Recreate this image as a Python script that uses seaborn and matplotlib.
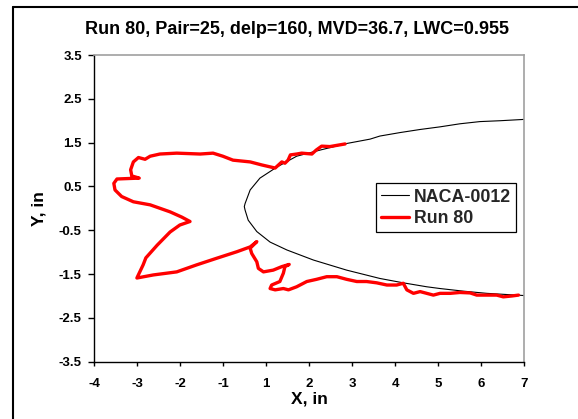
import numpy as np
import pandas as pd
import matplotlib
matplotlib.use("Agg")
import matplotlib.pyplot as plt
from matplotlib.lines import Line2D
import seaborn as sns

# ---- data ----
naca_x = [7.00, 6.39, 5.87, 5.36, 4.85, 4.34, 3.83, 3.31, 3.06, 2.46, 1.78, 1.18, 0.67, 0.24,
          -0.01, -0.14, -0.16, -0.14, -0.06, 0.16, 0.50, 0.93, 1.61, 2.46, 3.31, 3.91, 4.51,
          4.85, 5.45, 6.05, 7.00]
naca_y = [2.03, 2.00, 1.98, 1.93, 1.86, 1.80, 1.73, 1.65, 1.58, 1.48, 1.33, 1.19, 0.94, 0.69,
          0.42, 0.11, 0.04, -0.04, -0.27, -0.53, -0.77, -0.95, -1.18, -1.41, -1.60, -1.70, -1.79,
          -1.83, -1.89, -1.94, -1.99]

run_x = [2.42, 2.03, 1.82, 1.68, 1.57, 1.31, 1.18, 1.02, 0.96, 0.88, 0.80, 0.63, 0.29, -0.01,
         -0.45, -0.71, -0.96, -1.29, -1.89, -2.32, -2.57, -2.70, -2.87, -3.00, -3.07, -3.04,
         -2.85, -3.14, -3.42, -3.50, -3.47, -3.30, -3.00, -2.57, -2.06, -1.76, -1.55, -1.81,
         -2.06, -2.39, -2.68, -2.75, -2.91, -2.49, -1.89, -1.38, -0.87, -0.35, -0.01, 0.16,
         -0.01, 0.03, 0.16, 0.20, 0.33, 0.58, 0.80, 0.99, 0.88, 0.84, 0.75, 0.54, 0.50, 0.63,
         0.84, 0.97, 1.18, 1.44, 1.69, 1.95, 2.21, 2.46, 2.72, 2.97, 3.23, 3.49, 3.74, 3.91,
         4.00, 4.17, 4.34, 4.51, 4.68, 4.85, 5.11, 5.36, 5.62, 5.79, 6.05, 6.30, 6.47, 6.69, 6.86]
run_y = [1.47, 1.41, 1.42, 1.33, 1.24, 1.26, 1.24, 1.22, 1.10, 1.03, 1.06, 0.92, 0.99, 1.06,
         1.10, 1.19, 1.26, 1.24, 1.26, 1.24, 1.19, 1.12, 1.16, 1.06, 0.88, 0.74,
         0.69, 0.68, 0.67, 0.57, 0.42, 0.27, 0.15, 0.08, -0.08, -0.20, -0.30, -0.38,
         -0.54, -0.84, -1.13, -1.29, -1.59, -1.52, -1.45, -1.29, -1.14, -0.99, -0.88, -0.76,
         -0.91, -1.03, -1.22, -1.37, -1.45, -1.41, -1.33, -1.28, -1.33, -1.48, -1.67, -1.75, -1.83, -1.86,
         -1.83, -1.86, -1.79, -1.67, -1.62, -1.56, -1.56, -1.62, -1.67, -1.67, -1.70, -1.75, -1.75, -1.71,
         -1.86, -1.94, -1.90, -1.94, -1.98, -1.94, -1.94, -1.92, -1.93, -1.98, -1.98, -1.98, -2.02, -2.00, -1.98]

x_tick_labels = ["-4", "-3", "-2", "-1", "1", "2", "3", "4", "5", "6", "7"]
y_tick_values = [3.5, 2.5, 1.5, 0.5, -0.5, -1.5, -2.5, -3.5]

title = "Run 80, Pair=25, delp=160, MVD=36.7, LWC=0.955"

# ---- plotting ----
sns.set_theme(style="white")
plt.rcParams["font.family"] = ["Liberation Sans", "DejaVu Sans"]
plt.rcParams["font.weight"] = "bold"

W, H = 578, 419
fig = plt.figure(figsize=(W / 100, H / 100), dpi=100)
fig.patch.set_facecolor("white")
left, right, top, bottom = 94.3, 524.0, 55.0, 361.7
ax = fig.add_axes([left / W, 1 - bottom / H, (right - left) / W, (bottom - top) / H])

df_naca = pd.DataFrame({"x": naca_x, "y": naca_y})
df_run = pd.DataFrame({"x": run_x, "y": run_y})

sns.lineplot(data=df_naca, x="x", y="y", sort=False, estimator=None, color="black",
             linewidth=0.8, ax=ax, label="NACA-0012")
sns.lineplot(data=df_run, x="x", y="y", sort=False, estimator=None, color="#ff0000",
             linewidth=2.4, ax=ax, label="Run 80")

ax.set_xlim(-4, 7)
ax.set_ylim(-3.5, 3.5)
ax.set_xticks(np.linspace(-4, 7, len(x_tick_labels)))
ax.set_xticklabels(x_tick_labels)
ax.set_yticks(y_tick_values)
ax.set_yticklabels([f"{v:.1f}" for v in y_tick_values])

for lab in ax.get_xticklabels() + ax.get_yticklabels():
    lab.set_fontweight("bold")
    lab.set_fontsize(9.5)
    lab.set_color("black")

ax.tick_params(axis="x", direction="out", length=3, width=1, pad=9, colors="black", bottom=True)
ax.tick_params(axis="y", direction="out", length=4, width=1, pad=5, colors="black", left=True)

ax.set_xlabel("X, in", fontsize=12.5, fontweight="bold", color="black", labelpad=1)
ax.set_ylabel("Y, in", fontsize=12.5, fontweight="bold", color="black", labelpad=9)

for s in ["left", "bottom"]:
    ax.spines[s].set_color("black")
    ax.spines[s].set_linewidth(1)
for s in ["top", "right"]:
    ax.spines[s].set_color("#a0a0a0")
    ax.spines[s].set_linewidth(1.2)

leg = ax.legend(loc="upper left", bbox_to_anchor=(0.655, 0.5817), frameon=True, fancybox=False,
                edgecolor="black", framealpha=1, prop={"weight": "bold", "size": 12.8},
                handlelength=1.55, handletextpad=0.3, borderpad=0.3, labelspacing=0.25,
                borderaxespad=0)
leg.get_frame().set_linewidth(0.9)

fig.text(297 / W, 1 - 30 / H, title, ha="center", va="center", fontsize=13,
         fontweight="bold", color="black")

# chart-area border (top and left visible)
fig.add_artist(Line2D([13 / W, 1.0], [1 - 7 / H, 1 - 7 / H], color="black", linewidth=1.5,
                      transform=fig.transFigure))
fig.add_artist(Line2D([13 / W, 13 / W], [0, 1 - 7 / H], color="black", linewidth=1.5,
                      transform=fig.transFigure))

fig.savefig("out.png", dpi=100, facecolor="white")
